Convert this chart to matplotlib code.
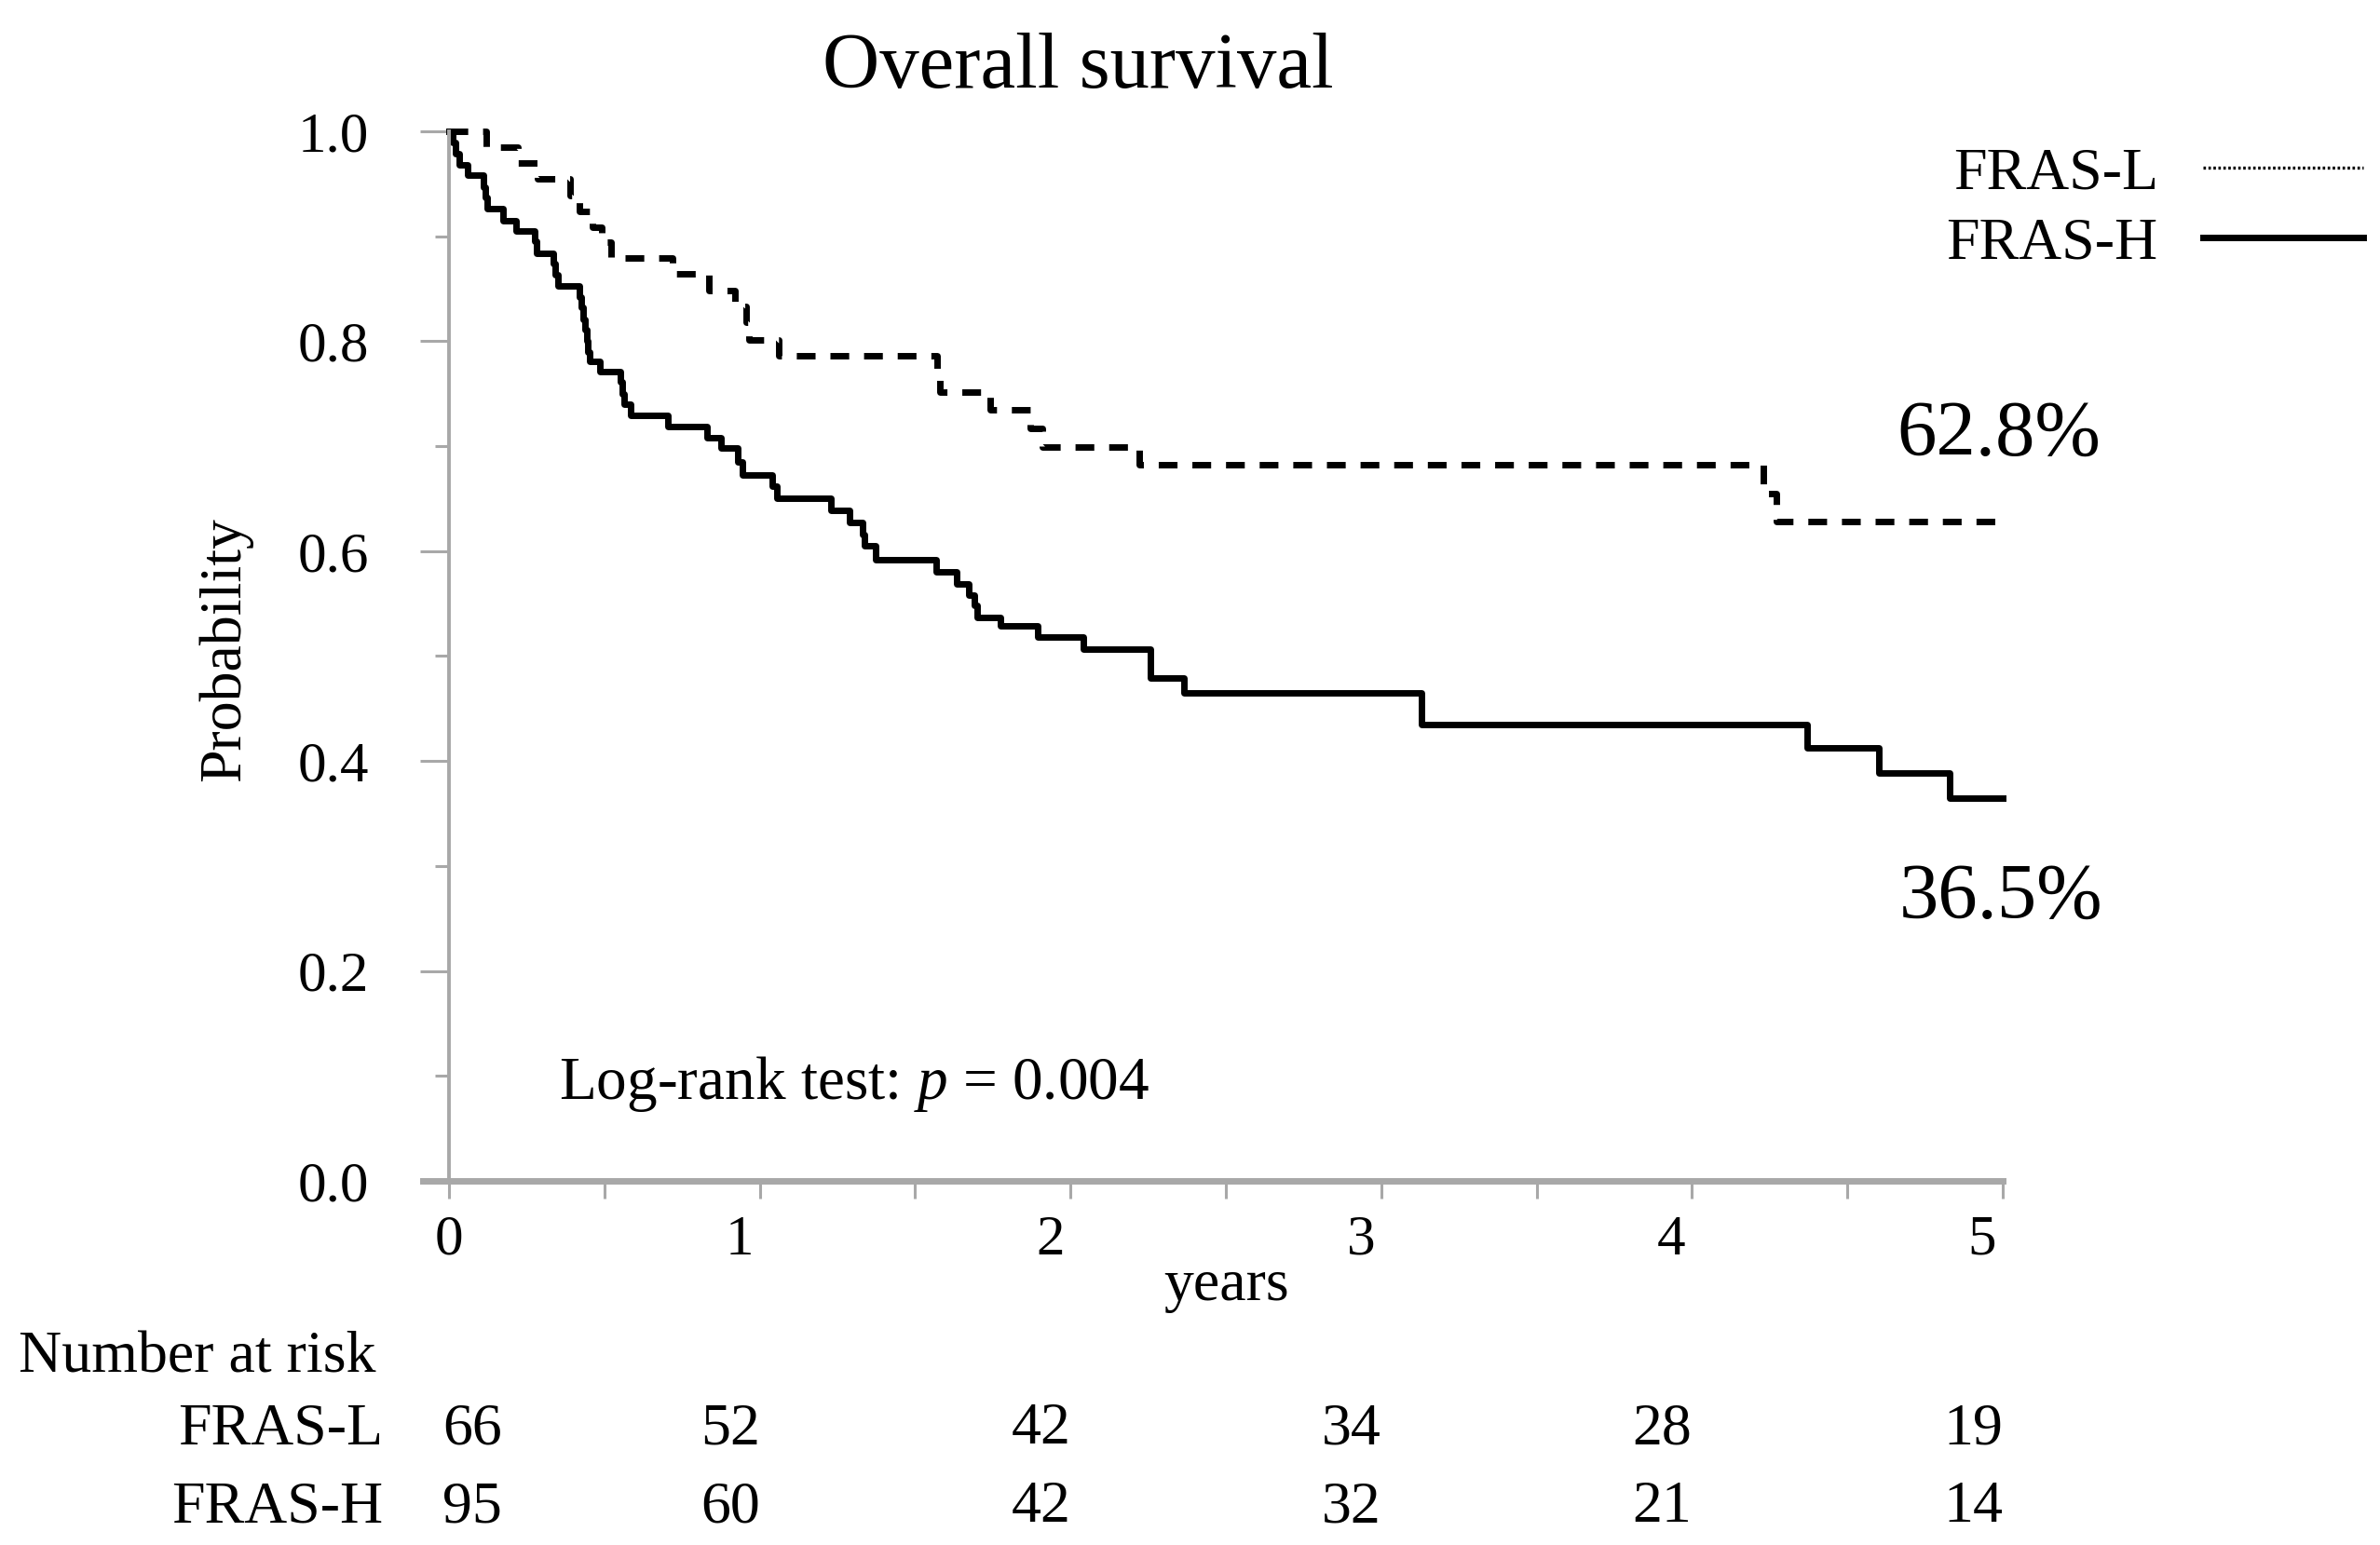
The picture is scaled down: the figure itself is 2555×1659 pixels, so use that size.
import numpy as np
import matplotlib
matplotlib.use("Agg")
import matplotlib.pyplot as plt
from matplotlib.lines import Line2D
from matplotlib import transforms

plt.rcParams['font.family'] = ['Liberation Serif', 'DejaVu Serif']
plt.rcParams['mathtext.fontset'] = 'custom'
plt.rcParams['mathtext.rm'] = 'Liberation Serif'
plt.rcParams['mathtext.it'] = 'Liberation Serif:italic'

# Kaplan-Meier steps (years, survival probability)
time_l = [0, 0.12, 0.22, 0.285, 0.39, 0.42, 0.46, 0.49, 0.52, 0.72, 0.835, 0.92,
          0.955, 0.965, 1.06, 1.57, 1.58, 1.74, 1.87, 1.91, 2.22, 4.23, 4.27, 5.0]
surv_l = [1.0, 0.985, 0.970, 0.955, 0.939, 0.924, 0.909, 0.894, 0.879, 0.864, 0.848, 0.833,
          0.818, 0.801, 0.786, 0.769, 0.752, 0.735, 0.717, 0.699, 0.682, 0.655, 0.628, 0.628]

time_h = [0, 0.012, 0.022, 0.032, 0.06, 0.112, 0.118, 0.124, 0.174, 0.216, 0.276, 0.28,
          0.335, 0.342, 0.35, 0.418, 0.424, 0.43, 0.436, 0.442, 0.447, 0.452, 0.484, 0.55,
          0.556, 0.562, 0.585, 0.705, 0.83, 0.875, 0.93, 0.945, 1.04, 1.055, 1.23, 1.29,
          1.33, 1.336, 1.373, 1.568, 1.633, 1.672, 1.69, 1.70, 1.775, 1.895, 2.04, 2.257,
          2.364, 3.13, 4.37, 4.6, 4.83, 5.0]
surv_h = [1.0, 0.989, 0.979, 0.968, 0.958, 0.947, 0.937, 0.926, 0.915, 0.905, 0.895, 0.884,
          0.874, 0.863, 0.853, 0.842, 0.832, 0.821, 0.811, 0.800, 0.790, 0.781, 0.771, 0.761,
          0.750, 0.740, 0.729, 0.719, 0.708, 0.698, 0.685, 0.673, 0.662, 0.650, 0.639, 0.627,
          0.616, 0.605, 0.592, 0.580, 0.569, 0.558, 0.548, 0.537, 0.529, 0.518, 0.507, 0.479,
          0.465, 0.435, 0.413, 0.389, 0.365, 0.365]

groups = ["FRAS-L", "FRAS-H"]
final_pct = ["62.8%", "36.5%"]
risk_times = [0, 1, 2, 3, 4, 5]
risk_l = [66, 52, 42, 34, 28, 19]
risk_h = [95, 60, 42, 32, 21, 14]
p_value = "0.004"

gray = "#a8a8a8"

fig = plt.figure(figsize=(25.55, 16.59), dpi=100)
ax = fig.add_axes([0.1887, 0.2357, 0.6528, 0.6793])

ax.step(time_l, surv_l, where="post", color="black", lw=5.0, dashes=(2.9, 2.3), clip_on=False)
ax.step(time_h, surv_h, where="post", color="black", lw=5.0, clip_on=False)

ax.set_xlim(0, 5)
ax.set_ylim(0, 1)

for s in ["top", "right"]:
    ax.spines[s].set_visible(False)
ax.spines["left"].set_color(gray)
ax.spines["left"].set_linewidth(2.8)
ax.spines["bottom"].set_color(gray)
ax.spines["bottom"].set_linewidth(5)
ax.spines["bottom"].set_bounds(-0.085, 5)

ax.set_yticks([0, 0.2, 0.4, 0.6, 0.8, 1.0])
ax.set_yticklabels(["0.0", "0.2", "0.4", "0.6", "0.8", "1.0"])
ax.set_yticks([0.1, 0.3, 0.5, 0.7, 0.9], minor=True)
ax.set_xticks(risk_times)
ax.set_xticklabels([str(t) for t in risk_times])
ax.set_xticks([0.5, 1.5, 2.5, 3.5, 4.5], minor=True)

ax.tick_params(axis="y", which="major", length=22, width=2.2, color=gray, pad=40, labelsize=44)
ax.tick_params(axis="y", which="minor", length=11, width=2.2, color=gray)
ax.tick_params(axis="x", which="both", length=14, width=2.2, color=gray, pad=12, labelsize=44)

# tick labels for 1..5 sit a little left of their ticks
for lab in ax.get_xticklabels()[1:]:
    lab.set_transform(lab.get_transform() + transforms.ScaledTranslation(-0.22, 0, fig.dpi_scale_trans))

ax.set_ylabel("Probability", fontsize=46)
ax.yaxis.set_label_coords(-0.1265, 0.507)
ax.set_xlabel("years", fontsize=46)
ax.xaxis.set_label_coords(0.5, -0.075)

fig.text(0.4528, 1 - 94 / 1659, "Overall survival", fontsize=61, ha="center", va="baseline")

ax.text(0.354, 0.092, "Log-rank test: $p$ = " + p_value, fontsize=47, ha="left", va="center")
ax.text(4.66, 0.71, final_pct[0], fontsize=61, ha="left", va="center")
ax.text(4.665, 0.269, final_pct[1], fontsize=61, ha="left", va="center")

handles = [Line2D([], [], color="black", lw=2.4, ls=(0, (0.8, 0.8))),
           Line2D([], [], color="black", lw=5.0)]
fig.legend(handles, groups, loc="upper right", bbox_to_anchor=(0.993, 0.905),
           frameon=False, markerfirst=False, fontsize=46, handlelength=2.7,
           handletextpad=0.75, labelspacing=0.25, borderpad=0, borderaxespad=0)

# number at risk table
tr = transforms.blended_transform_factory(ax.transData, fig.transFigure)
fig.text(0.0078, 0.1206, "Number at risk", fontsize=46, ha="left", va="center")
for row_y, name, counts in [(0.0747, groups[0], risk_l), (0.0241, groups[1], risk_h)]:
    fig.text(0.1609, row_y, name, fontsize=46, ha="right", va="center")
    for i, (t, n) in enumerate(zip(risk_times, counts)):
        if i == 0:
            ax.text(t - 0.02, row_y, str(n), transform=tr, fontsize=46, ha="left", va="center")
        else:
            ax.text(t, row_y, str(n), transform=tr, fontsize=46, ha="right", va="center")

fig.savefig("out.png", dpi=100)
